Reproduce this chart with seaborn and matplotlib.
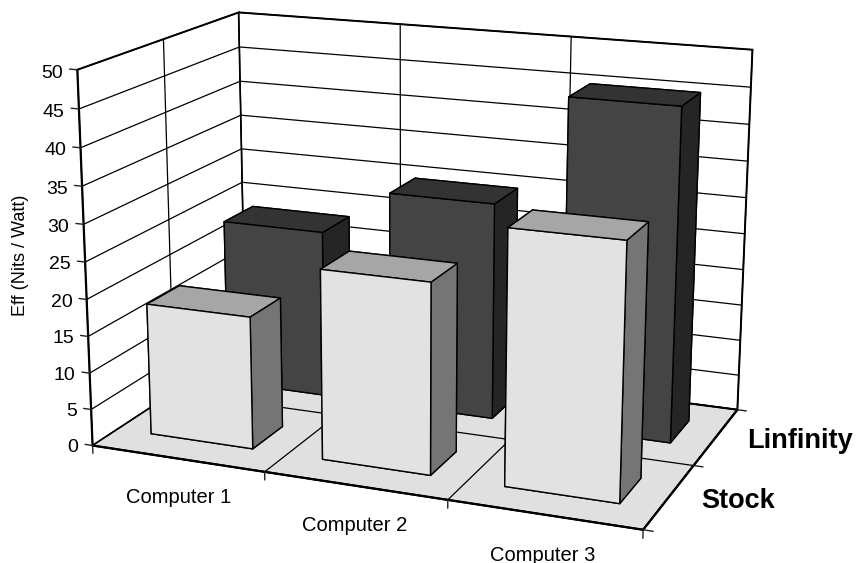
import seaborn as sns
import matplotlib
matplotlib.use('Agg')
import matplotlib.pyplot as plt

computers = ['Computer 1', 'Computer 2', 'Computer 3']
series_names = ['Stock', 'Linfinity']
stock = [18, 25.5, 33.5]
linfinity = [23.5, 30, 45.2]
eff_ticks = list(range(0, 51, 5))

sns.set_theme(style='white', rc={'grid.color': 'black', 'grid.linewidth': 0.9,
                                 'text.color': 'black', 'axes.labelcolor': 'black'})
plt.rcParams['font.family'] = ['Liberation Sans', 'DejaVu Sans']

fig = plt.figure(figsize=(8.56, 5.63), dpi=100)
ax = fig.add_axes([0.0455, -0.1211, 0.8727, 1.3268], projection='3d')
ax.set_xlim(0, 3, view_margin=0)
ax.set_ylim(0, 2, view_margin=0)
ax.set_zlim(0, 50, view_margin=0)

# camera fitted to the frame corners
ax.view_init(elev=15.7495, azim=-68.1554, roll=-0.0965)
ax.set_proj_type('persp', focal_length=0.5587)
ax.set_box_aspect((4.0057, 2.4231, 2.6761))

x_ticks = range(len(computers) + 1)
y_ticks = range(len(series_names) + 1)
ax.set_xticks(x_ticks)
ax.set_yticks(y_ticks)
ax.set_zticks(eff_ticks)
ax.zaxis.set_ticks_position('lower')
ax.grid(True)

ax.xaxis.set_pane_color('white')
ax.yaxis.set_pane_color('white')
ax.zaxis.set_pane_color('#e0e0e0')
for axis in (ax.xaxis, ax.yaxis, ax.zaxis):
    axis._axinfo['tick']['inward_factor'] = 0
    axis._axinfo['tick']['outward_factor'] = 0
    axis.pane.set_edgecolor('black')
    axis.pane.set_linewidth(1.4)
    axis.line.set_linewidth(1.6)
    axis.line.set_color('black')
    # labels are placed by hand below
    for tick in axis.get_major_ticks():
        tick.label1.set_visible(False)
        tick.label2.set_visible(False)
ax.computed_zorder = False

# tick stubs, the 3d axis cant point them the way the chart has them
for t in x_ticks:
    ax.plot([t, t], [0, 0], [0, -1.1], color='#222222', lw=1)
for t in y_ticks:
    ax.plot([3, 3.05], [t, t], [0, 0], color='#222222', lw=1)
for t in eff_ticks:
    ax.plot([0, -0.045], [0, 0], [t, t], color='#222222', lw=1)
    ax.text(-0.085, 0, t - 0.6, str(t), ha='right', va='center', fontsize=14)

# back row first so the front bars cover it
rows = [(1, linfinity, ('#444444', '#333333', '#252525')),
        (0, stock, ('#e2e2e2', '#a6a6a6', '#757575'))]
for row, vals, cols in rows:
    for i, v in enumerate(vals):
        faces = [cols[0], cols[1], cols[0], cols[0], cols[2], cols[2]]
        ax.bar3d(i + 0.2, row + 0.3, 0, 0.6, 0.4, v, color=faces, shade=False,
                 edgecolor='black', linewidth=1)

for i, name in enumerate(computers):
    ax.text(i + 0.5, 0, -5.4, name, ha='center', va='center', fontsize=14.5)
for j, name in enumerate(series_names):
    ax.text(3.165, j + 0.5, 0, name, ha='left', va='center', fontsize=19.5, fontweight='bold')

fig.text(21 / 856, 1 - 255 / 563, 'Eff (Nits / Watt)', rotation=90, ha='center', va='center', fontsize=13)

fig.savefig('out.png', dpi=100)
